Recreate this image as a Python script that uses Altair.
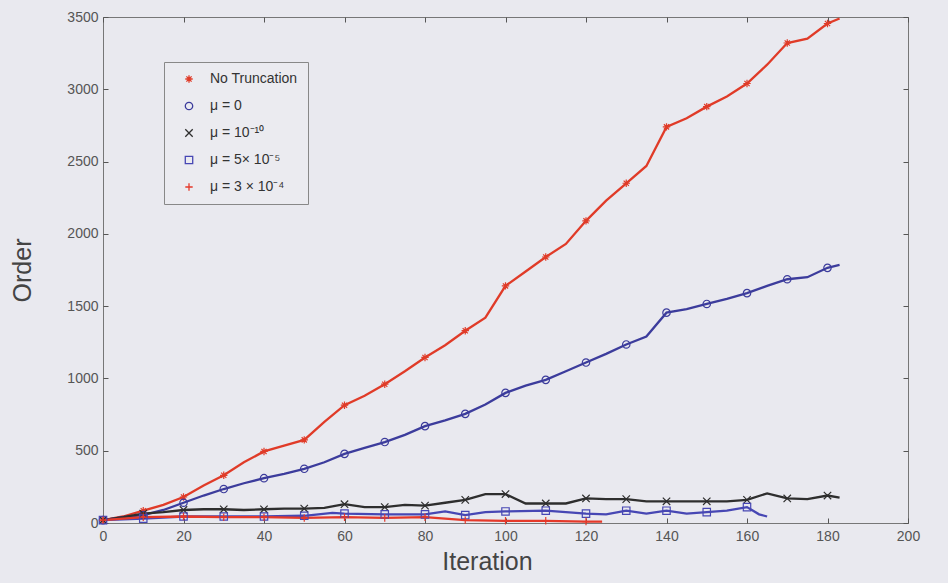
import altair as alt
import pandas as pd

# ---- data ----
series_names = ["No Truncation", "μ = 0", "μ = 10⁻¹⁰", "μ = 5× 10⁻⁵", "μ = 3 × 10⁻⁴"]
series_colors = ["#e03b28", "#3c3c9c", "#2e2e2e", "#4747b4", "#e5392a"]
series_shapes = [
    "M-1,0L1,0M0,-1L0,1M-0.7,-0.7L0.7,0.7M-0.7,0.7L0.7,-0.7",  # asterisk
    "circle",
    "M-1,-1L1,1M-1,1L1,-1",  # x
    "square",
    "M-1,0L1,0M0,-1L0,1",  # plus
]

iter_a = [0, 5, 10, 15, 20, 25, 30, 35, 40, 45, 50, 55, 60, 65, 70, 75, 80, 85, 90, 95,
          100, 105, 110, 115, 120, 125, 130, 135, 140, 145, 150, 155, 160, 165, 170, 175, 180, 183]
no_trunc = [20, 45, 85, 125, 180, 260, 330, 420, 495, 535, 575, 700, 815, 880, 960, 1050, 1145, 1230, 1330, 1420,
            1640, 1740, 1840, 1930, 2090, 2230, 2350, 2470, 2740, 2800, 2880, 2950, 3040, 3170, 3320, 3350, 3455, 3490]
mu_0 = [20, 40, 55, 90, 140, 190, 235, 275, 310, 340, 375, 420, 478, 520, 560, 610, 670, 710, 755, 820,
        900, 950, 990, 1050, 1110, 1170, 1235, 1290, 1455, 1480, 1515, 1550, 1590, 1640, 1686, 1700, 1765, 1785]
mu_1e10 = [20, 40, 65, 75, 90, 95, 95, 90, 95, 100, 100, 105, 130, 110, 110, 125, 120, 140, 160, 200,
           200, 135, 135, 135, 170, 165, 165, 150, 150, 150, 150, 150, 160, 205, 170, 165, 190, 175]

iter_sq = [0, 10, 20, 30, 40, 50, 57, 60, 70, 80, 85, 90, 95, 100, 110, 120, 125, 130, 135, 140,
           145, 150, 155, 160, 163, 165]
mu_5e5 = [20, 30, 45, 45, 45, 50, 70, 65, 60, 60, 80, 55, 75, 80, 85, 65, 60, 85, 65, 85,
          65, 75, 85, 110, 60, 45]

iter_pl = [0, 10, 20, 30, 40, 50, 60, 70, 80, 85, 90, 100, 110, 120, 124]
mu_3e4 = [20, 40, 45, 40, 40, 35, 40, 35, 40, 30, 20, 15, 15, 10, 10]

x_ticks = [0, 20, 40, 60, 80, 100, 120, 140, 160, 180, 200]
y_ticks = [0, 500, 1000, 1500, 2000, 2500, 3000, 3500]

rows = []
for k, (name, xs, ys) in enumerate([
    (series_names[0], iter_a, no_trunc),
    (series_names[1], iter_a, mu_0),
    (series_names[2], iter_a, mu_1e10),
    (series_names[3], iter_sq, mu_5e5),
    (series_names[4], iter_pl, mu_3e4),
]):
    for x, y in zip(xs, ys):
        rows.append({"series": name, "k": k, "x": x, "y": y})
df = pd.DataFrame(rows)

BG = "#e9e9ef"
xscale = alt.Scale(domain=[0, 200], nice=False, zero=False)
yscale = alt.Scale(domain=[0, 3500], nice=False, zero=False)
cscale = alt.Scale(domain=series_names, range=series_colors)
sscale = alt.Scale(domain=series_names, range=series_shapes)

tick_common = dict(domain=False, grid=False, offset=-5, tickSize=5, tickColor="#555",
                   tickWidth=1, labelFlush=False, labelOverlap=False)

legend_props = dict(
    title=None, orient="none", legendX=61, legendY=45, direction="vertical",
    fillColor="#ebebf0", strokeColor="#888", padding=10, rowPadding=13,
    symbolOffset=8, labelOffset=14, symbolSize=55, symbolStrokeWidth=1.3,
    symbolFillColor="transparent", labelFontSize=14, labelColor="#333", labelLimit=300,
)

points = alt.Chart(df).transform_filter("datum.x % 10 == 0").mark_point(
    filled=False, size=55, strokeWidth=1.2, opacity=1
).encode(
    x=alt.X("x:Q", scale=xscale,
            axis=alt.Axis(orient="bottom", values=x_ticks, labelFontSize=14, labelColor="#555",
                          labelPadding=6, title="Iteration", titleFontSize=25, titleX=384,
                          titleFontWeight="normal", titleColor="#444", titlePadding=6,
                          **tick_common)),
    y=alt.Y("y:Q", scale=yscale,
            axis=alt.Axis(orient="left", values=y_ticks, format="d", labelFontSize=14,
                          labelColor="#555", labelPadding=5, title="Order", titleFontSize=25,
                          titleFontWeight="normal", titleColor="#444", titlePadding=31,
                          **tick_common)),
    color=alt.Color("series:N", scale=cscale, legend=alt.Legend(**legend_props)),
    shape=alt.Shape("series:N", scale=sscale, legend=alt.Legend(**legend_props)),
)

lines = alt.Chart(df).mark_line(strokeWidth=2.3).encode(
    x=alt.X("x:Q", scale=xscale,
            axis=alt.Axis(orient="top", values=x_ticks, labels=False, title=None, **tick_common)),
    y=alt.Y("y:Q", scale=yscale,
            axis=alt.Axis(orient="right", values=y_ticks, labels=False, title=None, **tick_common)),
    color=alt.Color("series:N", scale=cscale, legend=alt.Legend(**legend_props)),
    detail="k:N",
)

chart = alt.layer(lines, points).resolve_axis(x="independent", y="independent").properties(
    width=805, height=506,
    autosize=alt.AutoSizeParams(type="none"),
    padding={"left": 103, "top": 17, "right": 40, "bottom": 60},
    background=BG,
).configure(
    font="Liberation Sans",
).configure_view(
    stroke="#777", strokeWidth=1, fill=BG,
)

chart.save("out.html", embed_options={"renderer": "svg", "actions": False})
